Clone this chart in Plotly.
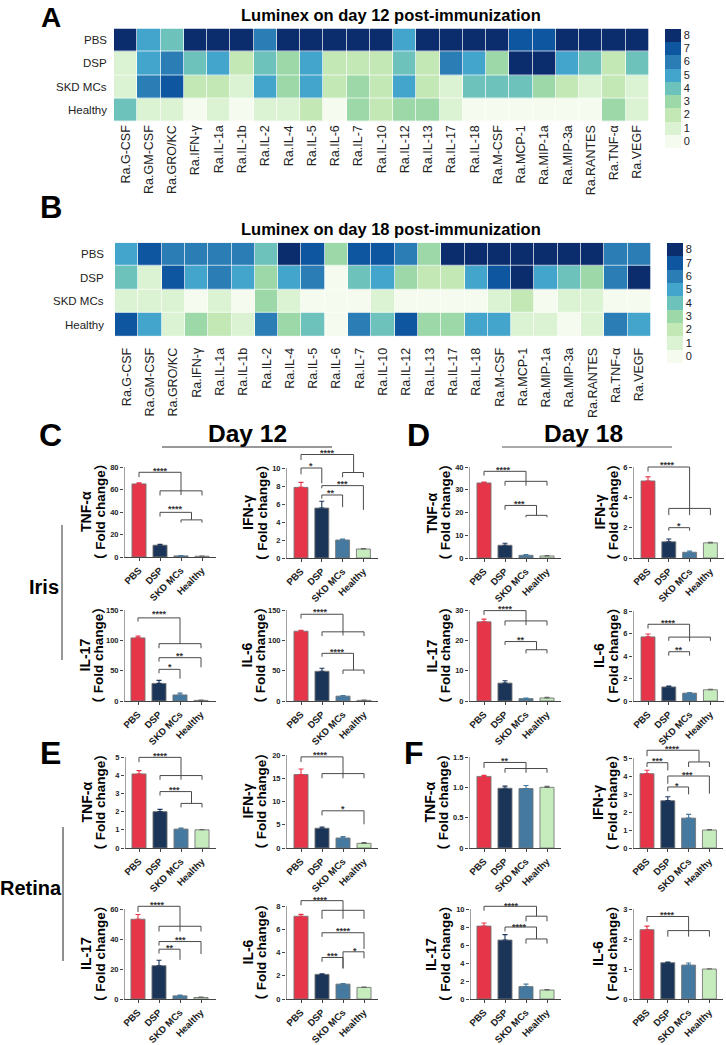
import plotly.graph_objects as go

W, H = 726, 1045
GROUPS = ["PBS", "DSP", "SKD MCs", "Healthy"]
GROUP_COLORS = ["#E63549", "#1B3559", "#45799F", "#C6ECBE"]
CYTOKINES = ["Ra.G-CSF", "Ra.GM-CSF", "Ra.GRO/KC", "Ra.IFN-γ", "Ra.IL-1a", "Ra.IL-1b", "Ra.IL-2", "Ra.IL-4",
             "Ra.IL-5", "Ra.IL-6", "Ra.IL-7", "Ra.IL-10", "Ra.IL-12", "Ra.IL-13", "Ra.IL-17", "Ra.IL-18",
             "Ra.M-CSF", "Ra.MCP-1", "Ra.MIP-1a", "Ra.MIP-3a", "Ra.RANTES", "Ra.TNF-α", "Ra.VEGF"]
HEAT_COLORS = ["#F5FBEE", "#DBF3D3", "#C3E8B6", "#9CD8A8", "#6DC3BC", "#43A5CB", "#2A7DB5", "#0F56A0", "#0B2D6E"]
A_PBS = [8, 5, 4, 8, 8, 8, 6, 8, 8, 8, 8, 8, 5, 8, 8, 8, 8, 7, 7, 8, 8, 8, 8]
A_DSP = [1, 5, 6, 4, 5, 2, 4, 3, 5, 2, 2, 2, 4, 2, 6, 5, 3, 8, 8, 5, 4, 2, 4]
A_SKD = [1, 6, 7, 2, 2, 1, 5, 3, 5, 2, 3, 2, 5, 2, 1, 4, 4, 4, 3, 2, 1, 2, 1]
A_HEALTHY = [4, 1, 1, 0, 1, 0, 1, 1, 2, 0, 3, 2, 3, 3, 1, 0, 0, 0, 0, 0, 0, 3, 1]
B_PBS = [5, 7, 6, 6, 6, 6, 4, 8, 7, 3, 7, 7, 6, 3, 8, 8, 8, 8, 8, 8, 8, 6, 6]
B_DSP = [4, 1, 7, 5, 6, 5, 3, 5, 6, 0, 4, 5, 3, 2, 2, 5, 7, 8, 5, 4, 3, 6, 8]
B_SKD = [1, 1, 1, 0, 1, 0, 3, 1, 0, 0, 0, 1, 0, 0, 0, 0, 1, 2, 0, 1, 1, 0, 0]
B_HEALTHY = [7, 5, 1, 3, 2, 1, 6, 3, 4, 0, 6, 4, 7, 3, 3, 5, 5, 1, 1, 0, 1, 6, 5]

# Bars: values and upper error; brackets (x1, x2, top, left end, right end); stars (x, y, text)
C_TNF_V = [65, 10.5, 1, 0.7]; C_TNF_E = [1, 0.7, 0.3, 0.2]
C_TNF_B = [(0, 2, 75.3, 71, 75.3), (2, 2, 75.3, 75.3, 55), (1, 3, 58.8, 54.7, 54.7), (1, 2.5, 39.7, 35.9, 39.7), (2.5, 2.5, 39.7, 39.7, 33), (2, 3, 33, 30.6, 30.6)]
C_TNF_S = [(1, 78, "****"), (1.75, 44, "****")]
C_IFN_V = [7.85, 5.55, 2.0, 1.0]; C_IFN_E = [0.55, 0.75, 0.1, 0.05]
C_IFN_B = [(0, 2.53, 11.5, 10.9, 11.5), (2.53, 2.53, 11.5, 11.5, 9.5), (2, 3, 9.5, 8.97, 8.97), (0, 1, 10, 9.3, 8.3), (1, 3, 8.04, 7.75, 5.35), (1, 2, 7, 6.6, 5.65)]
C_IFN_S = [(1.27, 11.9, "****"), (0.5, 10.45, "*"), (2, 8.5, "***"), (1.46, 7.4, "**")]
C_IL17_V = [104, 29, 10, 1]; C_IL17_E = [3, 5, 3, 0.5]
C_IL17_B = [(0, 2, 137, 131, 137), (2, 2, 137, 137, 94.5), (1, 3, 94.5, 87, 87), (1, 3, 71.4, 65, 55.5), (1, 2, 52.2, 45.6, 36.8)]
C_IL17_S = [(1, 146, "****"), (2, 77.5, "**"), (1.5, 59, "*")]
C_IL6_V = [115, 49, 8, 1]; C_IL6_E = [1.5, 5, 1, 0.5]
C_IL6_B = [(0, 2, 143, 136, 143), (2, 2, 143, 143, 108), (1, 3, 114, 107, 107), (1, 2.5, 78.6, 73, 78.6), (2.5, 2.5, 78.6, 78.6, 51), (2, 3, 51, 44.7, 44.7)]
C_IL6_S = [(0.95, 150, "****"), (1.75, 84.6, "****")]
D_TNF_V = [33, 5.6, 1.2, 0.9]; D_TNF_E = [0.4, 0.9, 0.3, 0.2]
D_TNF_B = [(0, 2, 38.1, 36.2, 38.1), (2, 2, 38.1, 38.1, 31.8), (1, 3, 33.7, 31.8, 31.8), (1, 2.5, 23.1, 21.2, 23.1), (2.5, 2.5, 23.1, 23.1, 18.75), (2, 3, 18.75, 17.9, 17.9)]
D_TNF_S = [(0.93, 39.7, "****"), (1.7, 24.6, "***")]
D_IFN_V = [5.08, 1.07, 0.38, 1.0]; D_IFN_E = [0.27, 0.18, 0.08, 0.03]
D_IFN_B = [(0, 2, 6.0, 5.7, 6.0), (2, 2, 6.0, 6.0, 2.83), (1, 3, 3.27, 2.83, 2.83), (1, 2, 2.0, 1.8, 1.8)]
D_IFN_S = [(0.92, 6.24, "****"), (1.48, 2.26, "*")]
D_IL17_V = [26.1, 5.9, 0.8, 1.0]; D_IL17_E = [0.9, 0.8, 0.2, 0.2]
D_IL17_B = [(0, 2, 29.8, 28.4, 29.8), (2, 2, 29.8, 29.8, 25), (1, 3, 26.4, 24.9, 24.9), (1, 2.5, 19.6, 18.5, 19.6), (2.5, 2.5, 19.6, 19.6, 16.9), (2, 3, 16.9, 15.7, 15.7)]
D_IL17_S = [(1, 30.9, "****"), (1.76, 20.8, "**")]
D_IL6_V = [5.7, 1.25, 0.7, 1.0]; D_IL6_E = [0.25, 0.07, 0.06, 0.05]
D_IL6_B = [(0, 2, 6.82, 6.44, 6.82), (2, 2, 6.82, 6.82, 5.3), (1, 3, 5.68, 5.35, 5.35), (1, 2, 4.38, 4.03, 4.03)]
D_IL6_S = [(1, 7.1, "****"), (1.48, 4.68, "**")]
E_TNF_V = [4.07, 2.0, 1.04, 1.0]; E_TNF_E = [0.18, 0.12, 0.06, 0.02]
E_TNF_B = [(0, 2, 4.98, 4.72, 4.98), (2, 2, 4.98, 4.98, 3.75), (1, 3, 3.98, 3.75, 3.75), (1, 2.5, 3.1, 2.88, 3.1), (2.5, 2.5, 3.1, 3.1, 2.45), (2, 3, 2.45, 2.23, 2.23)]
E_TNF_S = [(1, 5.17, "****"), (1.67, 3.28, "***")]
E_IFN_V = [15.8, 4.25, 2.15, 1.0]; E_IFN_E = [1.2, 0.25, 0.3, 0.15]
E_IFN_B = [(0, 2, 19.6, 18.5, 19.6), (2, 2, 19.6, 19.6, 15), (1, 3, 16, 15, 15), (1, 3, 8, 7, 5.1)]
E_IFN_S = [(0.95, 20.4, "****"), (2, 8.75, "*")]
E_IL17_V = [53.2, 22.2, 2.1, 1.0]; E_IL17_E = [3.1, 3.6, 0.5, 0.3]
E_IL17_B = [(0, 2, 61.8, 58, 61.8), (2, 2, 61.8, 61.8, 45), (1, 3, 48.5, 45, 45), (1, 3, 38.3, 35.6, 30), (1, 2, 33.2, 30.3, 26.1)]
E_IL17_S = [(0.92, 64, "****"), (2, 40.5, "***"), (1.5, 35.2, "**")]
E_IL6_V = [7.12, 2.12, 1.28, 1.0]; E_IL6_E = [0.16, 0.05, 0.05, 0.02]
E_IL6_B = [(0, 2, 8.46, 8.06, 8.46), (2, 2, 8.46, 8.46, 6.9), (1, 3, 7.63, 6.9, 6.9), (1, 3, 5.7, 5.35, 4.3), (1, 2, 3.57, 3.2, 2.63), (2, 3, 4.06, 2.63, 3.5)]
E_IL6_S = [(0.95, 8.7, "****"), (2, 6.0, "****"), (1.5, 3.86, "***"), (2.55, 4.3, "*")]
F_TNF_V = [1.18, 0.985, 0.98, 1.0]; F_TNF_E = [0.02, 0.035, 0.05, 0.015]
F_TNF_B = [(0, 2, 1.41, 1.32, 1.41), (2, 2, 1.41, 1.41, 1.24), (1, 3, 1.31, 1.24, 1.24)]
F_TNF_S = [(1, 1.47, "**")]
F_IFN_V = [4.13, 2.63, 1.66, 1.0]; F_IFN_E = [0.19, 0.22, 0.21, 0.03]
F_IFN_B = [(0, 2.5, 5.43, 5.1, 5.43), (2.5, 2.5, 5.43, 5.43, 4.78), (2, 3, 4.78, 4.5, 4.5), (0, 1, 4.74, 4.5, 4.31), (1, 3, 4.0, 3.57, 3.02), (1, 2, 3.39, 3.15, 2.98)]
F_IFN_S = [(1.23, 5.63, "****"), (0.5, 4.93, "***"), (1.97, 4.17, "***"), (1.46, 3.54, "*")]
F_IL17_V = [8.1, 6.55, 1.38, 1.0]; F_IL17_E = [0.35, 0.6, 0.27, 0.05]
F_IL17_B = [(0, 2.5, 10.3, 9.8, 10.3), (2.5, 2.5, 10.3, 10.3, 9.2), (2, 3, 9.2, 8.63, 8.63), (1, 2.5, 8, 7.5, 8), (2.5, 2.5, 8, 8, 6.67), (2, 3, 6.67, 6.15, 6.15)]
F_IL17_S = [(1.3, 10.6, "****"), (1.7, 8.26, "****")]
F_IL6_V = [2.31, 1.21, 1.13, 1.0]; F_IL6_E = [0.12, 0.02, 0.07, 0.01]
F_IL6_B = [(0, 2, 2.75, 2.58, 2.75), (2, 2, 2.75, 2.75, 2.08), (1, 3, 2.28, 2.08, 2.08)]
F_IL6_S = [(1, 2.86, "****")]

# Layout of each bar panel, pixels: title, y max, y ticks, axis left/right, top/bottom, first bar, bar step, y-title centre
PANELS = [
    ("TNF-α", 80, [0, 20, 40, 60, 80], 124, 216, 467, 557, 139, 21, 93, C_TNF_V, C_TNF_E, C_TNF_B, C_TNF_S),
    ("IFN-γ", 10, [0, 2, 4, 6, 8, 10], 286, 378, 468, 558, 301, 20.8, 255, C_IFN_V, C_IFN_E, C_IFN_B, C_IFN_S),
    ("IL-17", 150, [0, 50, 100, 150], 124, 216, 610, 701, 138, 21, 91, C_IL17_V, C_IL17_E, C_IL17_B, C_IL17_S),
    ("IL-6", 150, [0, 50, 100, 150], 286, 378, 610, 701, 301, 21, 253, C_IL6_V, C_IL6_E, C_IL6_B, C_IL6_S),
    ("TNF-α", 40, [0, 10, 20, 30, 40], 469, 561, 467, 558, 484, 21, 438, D_TNF_V, D_TNF_E, D_TNF_B, D_TNF_S),
    ("IFN-γ", 6, [0, 2, 4, 6], 633, 724, 467, 558, 648, 20.8, 606, D_IFN_V, D_IFN_E, D_IFN_B, D_IFN_S),
    ("IL-17", 30, [0, 10, 20, 30], 469, 561, 610, 701, 484, 21, 438, D_IL17_V, D_IL17_E, D_IL17_B, D_IL17_S),
    ("IL-6", 8, [0, 2, 4, 6, 8], 633, 724, 611, 701, 648, 20.8, 606, D_IL6_V, D_IL6_E, D_IL6_B, D_IL6_S),
    ("TNF-α", 5, [0, 1, 2, 3, 4, 5], 125, 216, 757, 848, 139, 21, 93, E_TNF_V, E_TNF_E, E_TNF_B, E_TNF_S),
    ("IFN-γ", 20, [0, 5, 10, 15, 20], 286, 378, 755, 848, 301, 21, 254, E_IFN_V, E_IFN_E, E_IFN_B, E_IFN_S),
    ("IL-17", 60, [0, 20, 40, 60], 124, 216, 909, 999, 138, 21, 93, E_IL17_V, E_IL17_E, E_IL17_B, E_IL17_S),
    ("IL-6", 8, [0, 2, 4, 6, 8], 286, 378, 906, 999, 301, 21, 254, E_IL6_V, E_IL6_E, E_IL6_B, E_IL6_S),
    ("TNF-α", 1.5, [0, 0.5, 1.0, 1.5], 469, 561, 757, 848, 484, 21, 436, F_TNF_V, F_TNF_E, F_TNF_B, F_TNF_S),
    ("IFN-γ", 5, [0, 1, 2, 3, 4, 5], 633, 723, 758, 848, 647, 20.8, 605, F_IFN_V, F_IFN_E, F_IFN_B, F_IFN_S),
    ("IL-17", 10, [0, 2, 4, 6, 8, 10], 470, 561, 909, 999, 484, 21, 438, F_IL17_V, F_IL17_E, F_IL17_B, F_IL17_S),
    ("IL-6", 3, [0, 1, 2, 3], 633, 723, 909, 999, 647, 20.8, 605, F_IL6_V, F_IL6_E, F_IL6_B, F_IL6_S),
]

SANS = "Liberation Sans, Noto Sans CJK SC"
PAD = 24  # headroom above each y axis so brackets and stars can overhang it
fig = go.Figure()
annotations, shapes = [], []
layout = {}


def xf(px):
    return px / W


def yf(py):
    return 1 - py / H


def note(px, py, text, size, bold=True, color="#000", angle=0, xanchor="center", yanchor="middle"):
    annotations.append(dict(xref="paper", yref="paper", x=xf(px), y=yf(py), text=f"<b>{text}</b>" if bold else text,
                            showarrow=False, xanchor=xanchor, yanchor=yanchor, textangle=angle,
                            font=dict(family=SANS, size=size, color=color)))


def heat(index, rows, title_y, l, r, t, b, label_r, cb_l, cb_t, cb_b, standoff):
    xa, ya = f"xaxis{index}", f"yaxis{index}"
    n = len(HEAT_COLORS)
    scale = []
    for i, c in enumerate(HEAT_COLORS):
        scale += [[i / n, c], [(i + 1) / n, c]]
    fig.add_trace(go.Heatmap(z=rows, x=CYTOKINES, y=GROUPS, zmin=-0.5, zmax=8.5, colorscale=scale, xgap=0.7, ygap=0.7,
                             xaxis=f"x{index}", yaxis=f"y{index}", hoverinfo="skip",
                             colorbar=dict(x=xf(cb_l), xanchor="left", y=yf(cb_t), yanchor="top", thickness=16,
                                           thicknessmode="pixels", len=cb_b - cb_t, lenmode="pixels", outlinewidth=0,
                                           ticks="", tickvals=list(range(9)), xpad=0, ypad=0,
                                           tickfont=dict(family=SANS, size=11, color="#222"))))
    layout[xa] = dict(domain=[xf(l), xf(r)], anchor=f"y{index}", tickangle=-90, showline=False, showgrid=False, ticks="",
                      tickfont=dict(family=SANS, size=12.5, color="#222"), ticklabelstandoff=standoff)
    layout[ya] = dict(domain=[yf(b), yf(t)], anchor=f"x{index}", autorange="reversed", showticklabels=False, ticks="",
                      showline=False, showgrid=False)
    for i, g in enumerate(GROUPS):
        note(label_r, t + (b - t) * (i + 0.5) / 4, g, 11.5, bold=False, color="#222", xanchor="right")
    note(391, title_y, f"Luminex on day {12 if index == 1 else 18} post-immunization", 16.5)


heat(1, [A_PBS, A_DSP, A_SKD, A_HEALTHY], 15, 114, 649, 28.5, 121.7, 108.6, 665, 28.5, 147.7, 0)
heat(2, [B_PBS, B_DSP, B_SKD, B_HEALTHY], 229, 115, 651, 242.7, 336.3, 106, 667, 242.7, 362.3, 8)

for i, (name, ymax, ticks, l, r, t, b, c0, step, title_x, vals, errs, brackets, stars) in enumerate(PANELS, start=3):
    xname, yname = f"x{i}", f"y{i}"
    for k, g in enumerate(GROUPS):
        fig.add_trace(go.Bar(x=[k], y=[vals[k]], width=0.67, xaxis=xname, yaxis=yname, name=g, showlegend=False,
                             marker=dict(color=GROUP_COLORS[k], line=dict(color="#777", width=0.9)), hoverinfo="skip",
                             error_y=dict(type="data", symmetric=False, array=[errs[k]], arrayminus=[0],
                                          color=GROUP_COLORS[k] if k < 3 else "#666", thickness=1.1, width=2.5)))
    x_low, x_high = (l - c0) / step, (r - c0) / step
    # The y axis line stops at the top tick while the plot area continues upward for the brackets.
    fig.add_trace(go.Scatter(x=[x_low, x_low], y=[0, ymax], mode="lines", xaxis=xname, yaxis=yname, cliponaxis=False,
                             showlegend=False, hoverinfo="skip", line=dict(color="#444", width=1)))
    bx, by = [], []
    for x1, x2, top, yl, yr in brackets:
        bx += [x1, x1, x2, x2, None]
        by += [yl, top, top, yr, None]
    fig.add_trace(go.Scatter(x=bx, y=by, mode="lines", xaxis=xname, yaxis=yname, cliponaxis=False, showlegend=False,
                             hoverinfo="skip", line=dict(color="#4a4a4a", width=1)))
    for sx, sy, txt in stars:
        annotations.append(dict(xref=xname, yref=yname, x=sx, y=sy, text=f"<b>{txt}</b>", showarrow=False, yshift=-2,
                                font=dict(family=SANS, size=9, color="#333")))
    axis_style = dict(showgrid=False, zeroline=False, ticks="outside", tickcolor="#444", ticklen=3, tickwidth=1)
    layout[f"xaxis{i}"] = dict(domain=[xf(l), xf(r)], anchor=yname, range=[x_low, x_high], showline=True, linecolor="#444",
                               linewidth=1, tickmode="array", tickvals=[0, 1, 2, 3], ticktext=[f"<b>{g}</b>" for g in GROUPS],
                               tickangle=-45, tickfont=dict(family=SANS, size=9.6, color="#222"), **axis_style)
    layout[f"yaxis{i}"] = dict(domain=[yf(b), yf(t - PAD)], anchor=xname, range=[0, ymax * (b - t + PAD) / (b - t)],
                               showline=False, tickmode="array", tickvals=ticks,
                               ticktext=[f"<b>{v}</b>" if not isinstance(v, float) else f"<b>{v:.1f}</b>" for v in ticks],
                               tickfont=dict(family=SANS, size=7.5, color="#222"), **axis_style)
    note(title_x - 7, (t + b) / 2, name, 14, angle=-90)
    note(title_x + 7, (t + b) / 2, "（ Fold change）", 13.5, angle=-90)

note(51, 0, "A", 28, yanchor="top")
note(51.5, 207, "B", 31)
note(50.5, 435, "C", 32)
note(418, 435, "D", 32)
note(50, 753, "E", 32)
note(414, 753, "F", 32)
note(247, 433, "Day 12", 24.5)
note(583, 433, "Day 18", 24.5)
note(44, 587, "Iris", 20)
note(31, 888, "Retina", 20)
for x0, y0, x1, y1, c in [(162, 447, 332, 447, "#333"), (502, 447, 672, 447, "#555"), (62, 525, 62, 660, "#333"), (63, 827, 63, 961, "#222")]:
    shapes.append(dict(type="line", xref="paper", yref="paper", x0=xf(x0), y0=yf(y0), x1=xf(x1), y1=yf(y1),
                       line=dict(color=c, width=1)))

fig.update_layout(width=W, height=H, margin=dict(l=0, r=0, t=0, b=0, autoexpand=False), paper_bgcolor="white", plot_bgcolor="rgba(0,0,0,0)",
                  barmode="overlay", annotations=annotations, shapes=shapes, showlegend=False, **layout)
fig.write_html("out.html", config={"displayModeBar": False},
               post_script="document.body.style.margin='0';document.documentElement.style.overflow='hidden';")
